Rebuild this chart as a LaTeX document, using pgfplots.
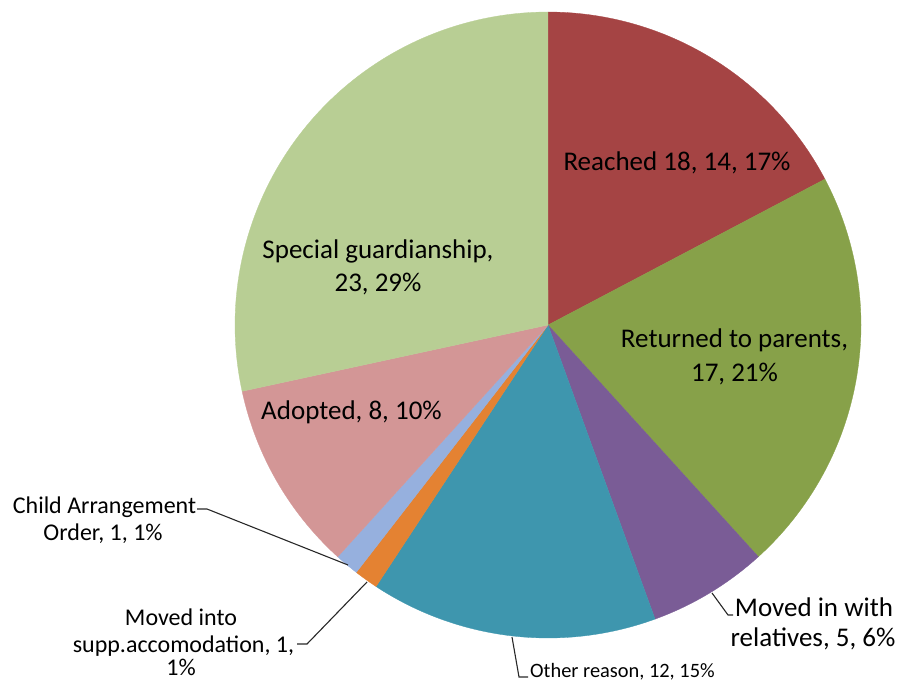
\documentclass[border=0pt]{standalone}
\usepackage{pgfplots}
\pgfplotsset{compat=1.18}
\usepackage{fontspec}
\setmainfont{Carlito}
\definecolor{cA}{RGB}{165,68,68}
\definecolor{cB}{RGB}{135,161,73}
\definecolor{cC}{RGB}{122,92,150}
\definecolor{cD}{RGB}{62,150,174}
\definecolor{cE}{RGB}{228,130,50}
\definecolor{cF}{RGB}{150,176,222}
\definecolor{cG}{RGB}{211,150,150}
\definecolor{cH}{RGB}{184,206,148}
\definecolor{lead}{RGB}{40,40,40}
% slice values (clockwise from 12 o'clock)
\def\vA{14}\def\vB{17}\def\vC{5}\def\vD{12}\def\vE{1}\def\vF{1}\def\vG{8}\def\vH{23}
\pgfmathsetmacro{\tot}{\vA+\vB+\vC+\vD+\vE+\vF+\vG+\vH}
\pgfmathsetmacro{\aA}{90}
\pgfmathsetmacro{\aB}{\aA-\vA/\tot*360}
\pgfmathsetmacro{\aC}{\aB-\vB/\tot*360}
\pgfmathsetmacro{\aD}{\aC-\vC/\tot*360}
\pgfmathsetmacro{\aE}{\aD-\vD/\tot*360}
\pgfmathsetmacro{\aF}{\aE-\vE/\tot*360}
\pgfmathsetmacro{\aG}{\aF-\vF/\tot*360}
\pgfmathsetmacro{\aH}{\aG-\vG/\tot*360}
\pgfmathsetmacro{\aI}{\aH-\vH/\tot*360}
\def\cx{548}\def\cy{358}\def\rr{313}
\begin{document}
\begin{tikzpicture}
\path[use as bounding box] (0,0) rectangle (901pt,683pt);
\begin{axis}[at={(0,0)}, anchor=south west, scale only axis,
  width=901pt, height=683pt, xmin=0, xmax=901, ymin=0, ymax=683,
  hide axis, clip=false]
\addplot[fill=cA, draw=cA, line width=0.3pt, domain=\aB:\aA, samples=80] ({\cx+\rr*cos(x)},{\cy+\rr*sin(x)}) -- (axis cs:\cx,\cy) -- cycle;
\addplot[fill=cB, draw=cB, line width=0.3pt, domain=\aC:\aB, samples=80] ({\cx+\rr*cos(x)},{\cy+\rr*sin(x)}) -- (axis cs:\cx,\cy) -- cycle;
\addplot[fill=cC, draw=cC, line width=0.3pt, domain=\aD:\aC, samples=40] ({\cx+\rr*cos(x)},{\cy+\rr*sin(x)}) -- (axis cs:\cx,\cy) -- cycle;
\addplot[fill=cD, draw=cD, line width=0.3pt, domain=\aE:\aD, samples=80] ({\cx+\rr*cos(x)},{\cy+\rr*sin(x)}) -- (axis cs:\cx,\cy) -- cycle;
\addplot[fill=cE, draw=cE, line width=0.3pt, domain=\aF:\aE, samples=10] ({\cx+\rr*cos(x)},{\cy+\rr*sin(x)}) -- (axis cs:\cx,\cy) -- cycle;
\addplot[fill=cF, draw=cF, line width=0.3pt, domain=\aG:\aF, samples=10] ({\cx+\rr*cos(x)},{\cy+\rr*sin(x)}) -- (axis cs:\cx,\cy) -- cycle;
\addplot[fill=cG, draw=cG, line width=0.3pt, domain=\aH:\aG, samples=60] ({\cx+\rr*cos(x)},{\cy+\rr*sin(x)}) -- (axis cs:\cx,\cy) -- cycle;
\addplot[fill=cH, draw=cH, line width=0.3pt, domain=\aI:\aH, samples=120] ({\cx+\rr*cos(x)},{\cy+\rr*sin(x)}) -- (axis cs:\cx,\cy) -- cycle;
% leader lines
\draw[lead, line width=1.1pt] (axis cs:197,174) -- (axis cs:207,174) -- (axis cs:348,118);
\draw[lead, line width=1.1pt] (axis cs:297,39) -- (axis cs:307,39) -- (axis cs:367,101);
\draw[lead, line width=1.1pt] (axis cs:712,90) -- (axis cs:728,68) -- (axis cs:733,68);
\draw[lead, line width=1.1pt] (axis cs:512,46) -- (axis cs:519,6) -- (axis cs:528,6);
% labels
\begin{scope}[every node/.style={inner sep=0pt, anchor=base, text=black}]
\node[font=\fontsize{27}{32}\selectfont] at (axis cs:677,512) {Reached 18, 14, 17\%};
\node[font=\fontsize{27}{32}\selectfont] at (axis cs:734.5,335) {Returned to parents,};
\node[font=\fontsize{27}{32}\selectfont] at (axis cs:734.5,301) {17, 21\%};
\node[font=\fontsize{27}{32}\selectfont] at (axis cs:378,424) {Special guardianship,};
\node[font=\fontsize{27}{32}\selectfont] at (axis cs:378,391) {23, 29\%};
\node[font=\fontsize{27}{32}\selectfont] at (axis cs:351.5,263) {Adopted, 8, 10\%};
\node[font=\fontsize{24}{29}\selectfont] at (axis cs:104.5,170) {Child Arrangement};
\node[font=\fontsize{24}{29}\selectfont] at (axis cs:103,143) {Order, 1, 1\%};
\node[font=\fontsize{24}{29}\selectfont] at (axis cs:181,58) {Moved into};
\node[font=\fontsize{24}{29}\selectfont] at (axis cs:183.5,31) {supp.accomodation, 1,};
\node[font=\fontsize{24}{29}\selectfont] at (axis cs:181,8) {1\%};
\node[font=\fontsize{27}{32}\selectfont] at (axis cs:814,67) {Moved in with};
\node[font=\fontsize{27}{32}\selectfont] at (axis cs:813,37) {relatives, 5, 6\%};
\node[font=\fontsize{20.4}{24}\selectfont, anchor=base west] at (axis cs:530,6) {Other reason, 12, 15\%};
\end{scope}
\end{axis}
\end{tikzpicture}
\end{document}
